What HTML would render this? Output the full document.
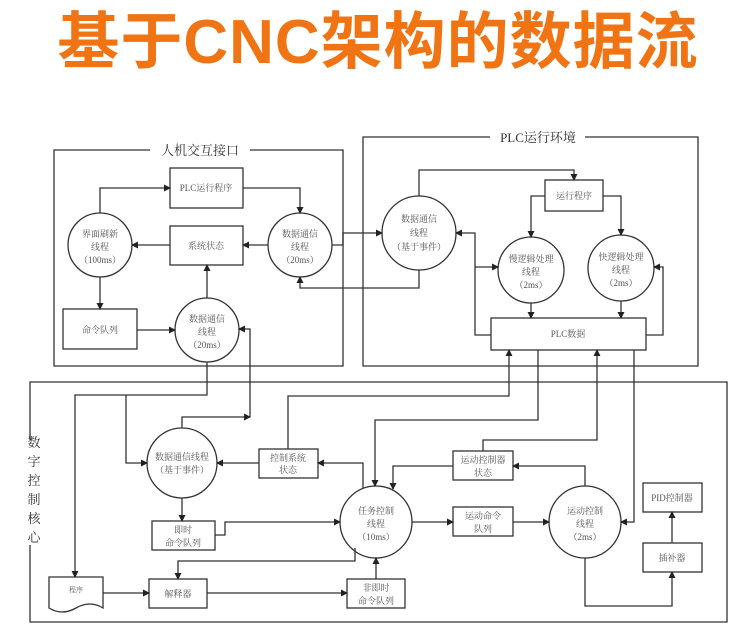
<!DOCTYPE html>
<html><head><meta charset="utf-8"><style>
html,body{margin:0;padding:0;background:#fff;}
svg{display:block;}
.t{font-family:"Liberation Serif","Noto Serif CJK SC",serif;fill:#555;font-size:9px;text-anchor:middle;}
.h{font-family:"Liberation Serif","Noto Serif CJK SC",serif;fill:#333;font-size:13px;text-anchor:middle;}
</style></head><body>
<svg width="748" height="641" viewBox="0 0 748 641" xmlns="http://www.w3.org/2000/svg">
<defs><marker id="a" markerWidth="7" markerHeight="7" refX="6" refY="3.5" orient="auto" markerUnits="userSpaceOnUse"><path d="M0,0 L7,3.5 L0,7 Z" fill="#222"/></marker></defs>
<text x="378" y="63" font-family="Liberation Sans,'Noto Sans CJK SC',sans-serif" font-weight="bold" font-size="62" fill="#f07414" text-anchor="middle" letter-spacing="1">基于CNC架构的数据流</text>
<g fill="none" stroke="#333" stroke-width="1.3">
<!-- group boxes -->
<path d="M150,150 H54 V366 H343 V150 H250"/>
<path d="M490,137 H363 V366 H698 V137 H585"/>
<path d="M30,440 V382 H727 V622 H30 V545"/>
<!-- HMI shapes -->
<rect x="170" y="168" width="73" height="40" fill="#fff"/>
<rect x="170" y="226" width="73" height="39" fill="#fff"/>
<rect x="63" y="309" width="74" height="40" fill="#fff"/>
<circle cx="100" cy="245" r="32" fill="#fff"/>
<circle cx="300" cy="245" r="32" fill="#fff"/>
<circle cx="207" cy="330" r="32" fill="#fff"/>
<!-- PLC -->
<rect x="545" y="180" width="58" height="31" fill="#fff"/>
<rect x="491" y="318" width="155" height="32" fill="#fff"/>
<circle cx="419" cy="233" r="37" fill="#fff"/>
<circle cx="531" cy="270" r="33" fill="#fff"/>
<circle cx="621" cy="268" r="33" fill="#fff"/>
<!-- core -->
<circle cx="182" cy="463" r="35" fill="#fff"/>
<rect x="259" y="449" width="59" height="29" fill="#fff"/>
<rect x="152" y="521" width="63" height="29" fill="#fff"/>
<path d="M49,577 H103 V608 Q90,600 76,608 Q62,616 49,608 Z" fill="#fff"/>
<rect x="149" y="579" width="58" height="29" fill="#fff"/>
<circle cx="376" cy="522" r="36" fill="#fff"/>
<rect x="347" y="579" width="58" height="29" fill="#fff"/>
<rect x="453" y="451" width="60" height="29" fill="#fff"/>
<rect x="453" y="507" width="60" height="29" fill="#fff"/>
<circle cx="585" cy="522" r="36" fill="#fff"/>
<rect x="643" y="483" width="59" height="29" fill="#fff"/>
<rect x="643" y="543" width="59" height="29" fill="#fff"/>
</g>
<g fill="none" stroke="#333" stroke-width="1.3" marker-end="url(#a)">
<path d="M100,213 V188 H170"/>
<path d="M243,188 H300 V213"/>
<path d="M268,245 H243"/>
<path d="M170,245 H132"/>
<path d="M100,277 V309"/>
<path d="M137,330 H175"/>
<path d="M207,298 V265"/>
<path d="M332,245 H343 V233 H382"/>
<path d="M419,270 V288 H300 V277"/>
<path d="M250,417 V329 H239"/>
<path d="M207,362 V395 H75 V577"/>
<path d="M126,395 V463 H147"/>
<path d="M182,428 V417 H250"/>
<path d="M419,196 V170 H574 V180"/>
<path d="M545,196 H531 V237"/>
<path d="M603,196 H621 V235"/>
<path d="M531,303 V318"/>
<path d="M621,301 V318"/>
<path d="M491,335 H475 V233 H456"/>
<path d="M475,267 H498"/>
<path d="M646,335 H663 V267 H654"/>
<path d="M288,449 V396 H509 V350"/>
<path d="M538,350 V420 H375 V486"/>
<path d="M483,451 V440 H597 V350"/>
<path d="M634,350 V522 H621"/>
<path d="M453,466 H393 V489"/>
<path d="M585,486 V466 H513"/>
<path d="M412,522 H453"/>
<path d="M513,522 H549"/>
<path d="M585,558 V606 H672 V572"/>
<path d="M672,543 V512"/>
<path d="M215,535 H225 V522 H340"/>
<path d="M355,548 V561 H178 V579"/>
<path d="M363,488 V463 H318"/>
<path d="M259,463 H217"/>
<path d="M182,498 V521"/>
<path d="M103,593 H149"/>
<path d="M207,593 H347"/>
<path d="M376,579 V558"/>
</g>
<text class="h" x="200" y="155">人机交互接口</text>
<text class="h" x="538" y="142">PLC运行环境</text>
<g class="h" font-size="14"><text x="34" y="447">数</text><text x="34" y="466">字</text><text x="34" y="485">控</text><text x="34" y="504">制</text><text x="34" y="523">核</text><text x="34" y="542">心</text></g>
<g class="t">
<text x="206" y="191">PLC运行程序</text>
<text x="206" y="249">系统状态</text>
<text x="100" y="237">界面刷新</text><text x="100" y="250">线程</text><text x="100" y="263">（100ms）</text>
<text x="300" y="237">数据通信</text><text x="300" y="250">线程</text><text x="300" y="263">（20ms）</text>
<text x="100" y="333">命令队列</text>
<text x="207" y="322">数据通信</text><text x="207" y="335">线程</text><text x="207" y="348">（20ms）</text>
<text x="419" y="222">数据通信</text><text x="419" y="236">线程</text><text x="419" y="250">（基于事件）</text>
<text x="574" y="199">运行程序</text>
<text x="531" y="262">慢逻辑处理</text><text x="531" y="275">线程</text><text x="531" y="288">（2ms）</text>
<text x="621" y="260">快逻辑处理</text><text x="621" y="273">线程</text><text x="621" y="286">（2ms）</text>
<text x="568" y="337">PLC数据</text>
<text x="182" y="460">数据通信线程</text><text x="182" y="473">（基于事件）</text>
<text x="288" y="461">控制系统</text><text x="288" y="473">状态</text>
<text x="183" y="533">即时</text><text x="183" y="546">命令队列</text>
<text x="76" y="592" font-size="7">程序</text>
<text x="178" y="597">解释器</text>
<text x="376" y="514">任务控制</text><text x="376" y="527">线程</text><text x="376" y="540">（10ms）</text>
<text x="376" y="591">非即时</text><text x="376" y="604">命令队列</text>
<text x="483" y="463">运动控制器</text><text x="483" y="476">状态</text>
<text x="483" y="519">运动命令</text><text x="483" y="532">队列</text>
<text x="585" y="514">运动控制</text><text x="585" y="527">线程</text><text x="585" y="540">（2ms）</text>
<text x="672" y="501">PID控制器</text>
<text x="672" y="561">插补器</text>
</g>
</svg>
</body></html>
